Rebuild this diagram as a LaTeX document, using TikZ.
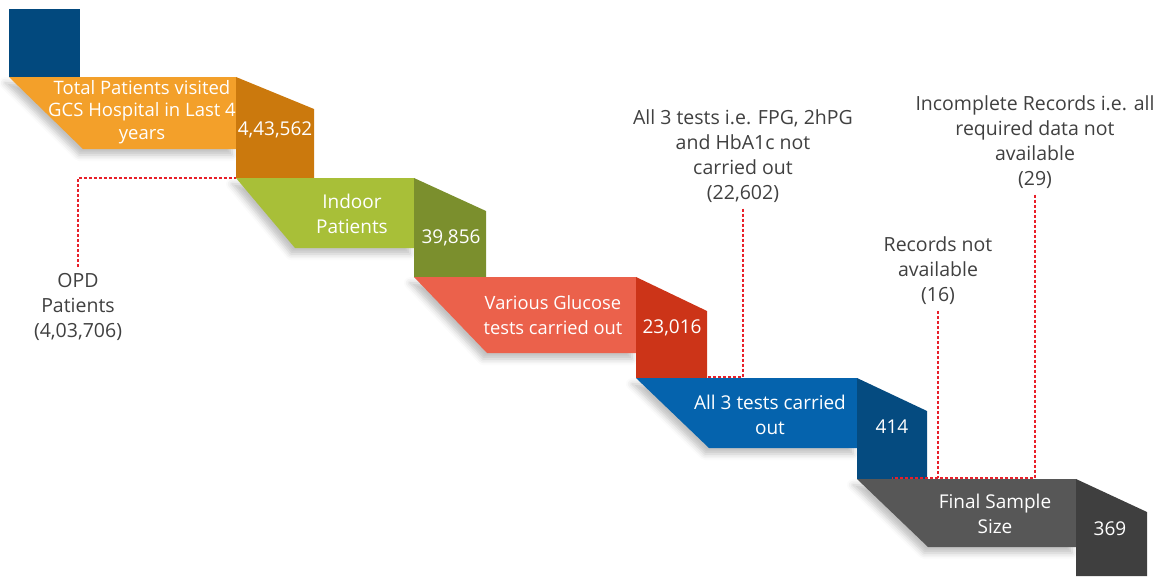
\documentclass[tikz,border=0pt]{standalone}
\usepackage{fontspec}
\setmainfont{Open Sans}
\usetikzlibrary{shadows.blur}

\definecolor{topblue}{HTML}{02497E}
\definecolor{orband}{HTML}{F3A02A}
\definecolor{orcol}{HTML}{CB790D}
\definecolor{grband}{HTML}{A8BF38}
\definecolor{grcol}{HTML}{7B8F2D}
\definecolor{rdband}{HTML}{EB614B}
\definecolor{rdcol}{HTML}{CC3418}
\definecolor{blband}{HTML}{0563AD}
\definecolor{blcol}{HTML}{054B80}
\definecolor{gyband}{HTML}{575757}
\definecolor{gycol}{HTML}{3F3F3F}
\definecolor{notegray}{HTML}{404040}
\definecolor{dropred}{HTML}{E8202A}

\tikzset{
	band/.style={fill=#1,blur shadow={shadow xshift=-4pt,shadow yshift=-6pt,shadow opacity=25,shadow blur radius=6pt}},
	intext/.style={text=white,align=center,inner sep=0pt,font=\fontsize{19}{24.5}\selectfont},
	note/.style={text=notegray,align=center,inner sep=0pt,font=\fontsize{19.5}{25}\selectfont},
	dropline/.style={dropred,densely dashed,line width=1.2pt}
}

\begin{document}
\begin{tikzpicture}[x=1pt,y=-1pt]
		\useasboundingbox (0,0) rectangle (1160,576);

		% top block
		\fill[topblue] (9,9) rectangle (80,77);

		% stage 1
		\draw[band=orband,draw=none] (9,77) -- (236,77) -- (236,149) -- (83,149) -- cycle;
		\fill[orcol] (236,77) -- (314,109) -- (314,178) -- (236,178) -- cycle;
		\coordinate (c1bl) at (236,178);

		% stage 2
		\draw[band=grband,draw=none] (236,178) -- (414,178) -- (414,248) -- (295,248) -- cycle;
		\fill[grcol] (414,178) -- (486,211) -- (486,277) -- (414,277) -- cycle;

		% stage 3
		\draw[band=rdband,draw=none] (414,277) -- (636,277) -- (636,353) -- (487,353) -- cycle;
		\fill[rdcol] (636,277) -- (707,311) -- (707,378) -- (636,378) -- cycle;
		\coordinate (c3br) at (707,377);

		% stage 4
		\draw[band=blband,draw=none] (636,378) -- (857,378) -- (857,448) -- (709,448) -- cycle;
		\fill[blcol] (857,378) -- (927,411) -- (927,479) -- (857,479) -- cycle;
		\coordinate (c4b) at (892,478);

		% stage 5
		\draw[band=gyband,draw=none] (857,479) -- (1076,479) -- (1076,547) -- (928,547) -- cycle;
		\fill[gycol] (1076,479) -- (1147,512) -- (1147,576) -- (1076,576) -- cycle;

		% texts in the steps
		\node[intext,font=\fontsize{18.5}{22.5}\selectfont] (total) at (142,112) {Total Patients visited\\GCS Hospital in Last 4\\years};
		\node[intext] (ntotal) at (275,130) {4,43,562};
		\node[intext] (indoor) at (352,214) {Indoor\\Patients};
		\node[intext] (nindoor) at (451,238) {39,856};
		\node[intext,font=\fontsize{18.3}{24.5}\selectfont] (glucose) at (553,315) {Various Glucose\\tests carried out};
		\node[intext] (nglucose) at (672,328) {23,016};
		\node[intext] (three) at (770,415) {All 3 tests carried\\out};
		\node[intext] (nthree) at (892,427) {414};
		\node[intext] (final) at (995,514) {Final Sample\\Size};
		\node[intext] (nfinal) at (1110,529) {369};

		% side notes
		\node[note] (opd) at (78,307) {OPD\\Patients\\(4,03,706)};
		\node[note] (nottested) at (743,156) {All 3 tests i.e. FPG, 2hPG\\and HbA1c not\\carried out\\(22,602)};
		\node[note] (norec) at (938,271) {Records not\\available\\(16)};
		\node[note] (incomp) at (1035,142) {Incomplete Records i.e. all\\required data not\\available\\(29)};

		% dropped records
		\draw[dropline] ([yshift=6pt]opd.north) |- (c1bl);
		\draw[dropline] ([yshift=-6pt]nottested.south) |- (c3br);
		\draw[dropline] ([yshift=-6pt]norec.south) -- (norec.south |- c4b);
		\draw[dropline] ([yshift=-6pt]incomp.south) |- (c4b);
	\end{tikzpicture}
\end{document}
